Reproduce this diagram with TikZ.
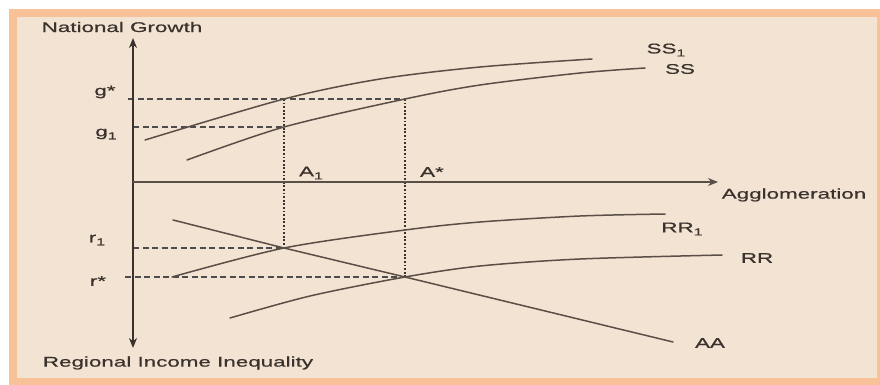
\documentclass[tikz,border=0pt]{standalone}
\usepackage{fontspec}
\setmainfont{Liberation Sans}[FakeStretch=1.6, FakeBold=0.6]
\usetikzlibrary{arrows.meta}
\definecolor{frame}{HTML}{F8C197}
\definecolor{paper}{HTML}{F3E3D3}
\definecolor{ink}{HTML}{3A322D}
\definecolor{curve}{HTML}{5A4F47}
\newcommand\subidx[1]{\raisebox{-3pt}{\fontsize{10}{10}\selectfont #1}}
\begin{document}
\begin{tikzpicture} [x=1pt, y=-1pt, >={Stealth[length=10pt,width=8pt]}, line join=round, line cap=round,
		every node/.style={text=ink, font=\fontsize{14}{16}\selectfont, inner sep=0pt},
		curv/.style={curve, line width=1.5pt},
		guide/.style={gray!60!black, line width=1.1pt, line cap=butt, dash pattern=on 6pt off 3.5pt},
		drop/.style={ink, line width=1.1pt, line cap=butt, dash pattern=on 1.8pt off 1.8pt}]
			\useasboundingbox (0,0) rectangle (880,385);
			\fill[white] (0,0) rectangle (880,385);
			\fill[frame] (9,9) rectangle (880,385);
			\fill[paper] (17,17) rectangle (877,378);
			\coordinate (O) at (133,182);
			\coordinate (ytop) at (133,38);\coordinate (ybot) at (133,348);\coordinate (xend) at (718,182);
			\coordinate (gs) at (128,99);\coordinate (g1) at (133,127);
			\coordinate (r1) at (133,248);\coordinate (rs) at (125,277);
			\coordinate (Ag) at (284,99);\coordinate (Ab) at (284,127);\coordinate (Ar) at (284,248);
			\coordinate (Cg) at (405,99);\coordinate (Cr) at (405,277);
			\coordinate (aa0) at (173,220);\coordinate (aa1) at (673,342);
			\draw[guide] (gs)--(Cg);
			\draw[guide] (g1)--(Ab);
			\draw[guide] (r1)--(Ar);
			\draw[guide] (rs)--(Cr);
			\draw[drop] (Ag)--(Ar);
			\draw[drop] (Cg)--(Cr);
			\draw[ink, line width=1.8pt, ->] (O)--(ytop);
			\draw[ink, line width=1.8pt, ->] (O)--(ybot);
			\draw[curve, line width=1.6pt, ->] (O)--(xend);
			\draw[curv] plot[smooth] coordinates {(145,140) (Ag) (380,79) (480,67) (592,59)};
			\draw[curv] plot[smooth] coordinates {(187,160) (Ab) (Cg) (480,85) (580,73) (645,68)};
			\draw[curv] plot[smooth] coordinates {(172,277) (Ar) (405,230) (480,222) (580,216) (665,214)};
			\draw[curv] plot[smooth] coordinates {(230,318) (310,296) (Cr) (480,266) (580,259) (722,255)};
			\draw[curv] (aa0)--(Ar)--(Cr)--(aa1);
			\node (ng) at (122,27) {National Growth};
			\node (rii) at (178,363) {Regional Income Inequality};
			\node (agg) at (794,195) {Agglomeration};
			\node (gsl) at (105,92) {g*};
			\node (g1l) at (106,134) {g\subidx{1}};
			\node (r1l) at (97,240) {r\subidx{1}};
			\node (rsl) at (98,281) {r*};
			\node (a1l) at (311,173) {A\subidx{1}};
			\node (asl) at (432,172) {A*};
			\node (ss1l) at (666,50) {SS\subidx{1}};
			\node (ssl) at (680,69) {SS};
			\node (rr1l) at (682,229) {RR\subidx{1}};
			\node (rrl) at (757,258) {RR};
			\node (aal) at (710,343) {AA};
	\end{tikzpicture}
\end{document}
